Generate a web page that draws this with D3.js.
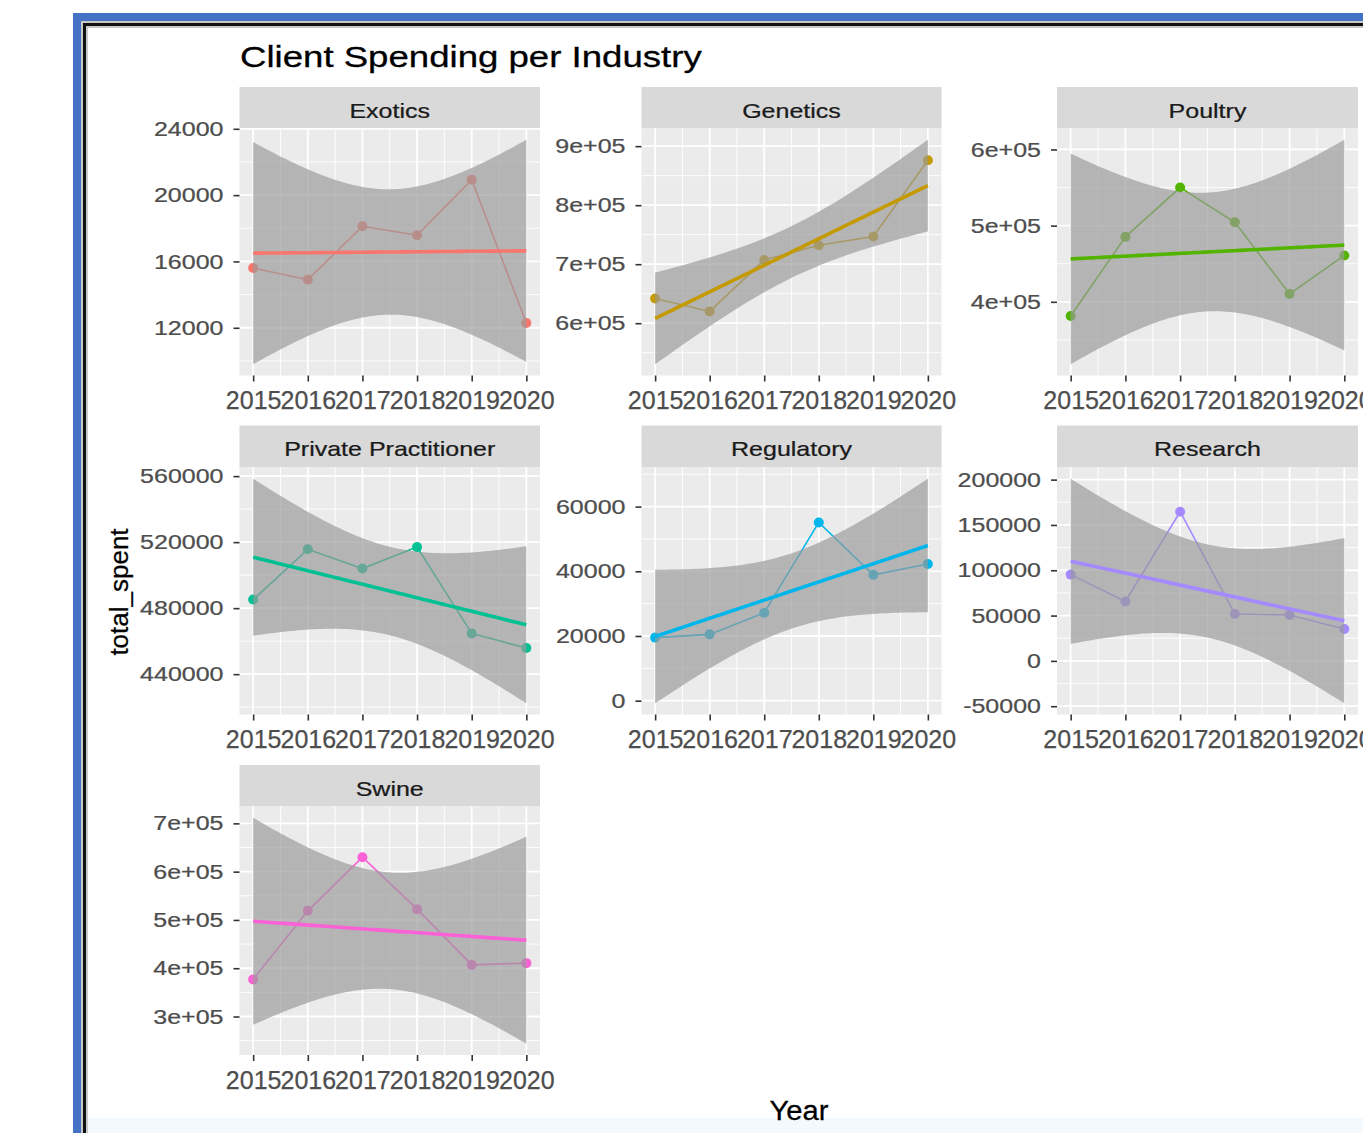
<!DOCTYPE html>
<html><head><meta charset="utf-8">
<script src="https://cdn.jsdelivr.net/npm/d3@7"></script>
<style>html,body{margin:0;padding:0;background:#fff;} svg{display:block;}</style>
</head><body>
<svg id="chart" width="1363" height="1133"></svg>
<script>
// ---------------- data ----------------
const years = [2015, 2016, 2017, 2018, 2019, 2020];
const xTickLabels = ["2015", "2016", "2017", "2018", "2019", "2020"];
const industries = ["Exotics", "Genetics", "Poultry", "Private Practitioner", "Regulatory", "Research", "Swine"];

const exotics             = [15600, 14900, 18120, 17580, 20930, 12290];
const genetics            = [642000, 620000, 707000, 732000, 747000, 876000];
const poultry             = [381400, 485300, 550000, 504400, 410400, 460900];
const privatePractitioner = [485200, 515650, 504000, 517000, 464700, 455800];
const regulatory          = [19500, 20500, 27200, 55100, 38900, 42250];
const research            = [95200, 65500, 164600, 51700, 50600, 35100];
const swine               = [376900, 518900, 630000, 522400, 407000, 410500];

const industryValues = [exotics, genetics, poultry, privatePractitioner, regulatory, research, swine];
const industryColors = ["#F8766D", "#C49A00", "#53B400", "#00C094", "#00B6EB", "#A58AFF", "#FB61D7"];

const yTickValues = [
  [12000, 16000, 20000, 24000],
  [600000, 700000, 800000, 900000],
  [400000, 500000, 600000],
  [440000, 480000, 520000, 560000],
  [0, 20000, 40000, 60000],
  [-50000, 0, 50000, 100000, 150000, 200000],
  [300000, 400000, 500000, 600000, 700000]
];
const yTickLabels = [
  ["12000", "16000", "20000", "24000"],
  ["6e+05", "7e+05", "8e+05", "9e+05"],
  ["4e+05", "5e+05", "6e+05"],
  ["440000", "480000", "520000", "560000"],
  ["0", "20000", "40000", "60000"],
  ["-50000", "0", "50000", "100000", "150000", "200000"],
  ["3e+05", "4e+05", "5e+05", "6e+05", "7e+05"]
];
const T_QUANTILE = 2.776445; // qt(0.975, df = 4) for the lm confidence band

// ---------------- layout ----------------
const FONT = "'Liberation Sans', Arial, Helvetica, sans-serif";
const cols = [{x0: 239.5, x1: 540}, {x0: 641.5, x1: 941.5}, {x0: 1057, x1: 1358}];
const rows = [{s0: 87, y0: 128.5, y1: 375.5}, {s0: 425.5, y0: 467.5, y1: 714.5}, {s0: 765, y0: 806.5, y1: 1055}];
const SX = 1.22; // horizontal stretch of the reference text

const svg = d3.select("#chart");

function stretch(sel, s) {
  sel.each(function () {
    const t = d3.select(this);
    const x = +t.attr("x") || 0;
    t.attr("transform", `translate(${x * (1 - s)},0) scale(${s},1)`);
  });
}
function heavy(sel, color, w) {
  sel.attr("stroke", color).attr("stroke-width", w).attr("paint-order", "stroke");
}

// frame
svg.append("rect").attr("x", 0).attr("y", 0).attr("width", 1363).attr("height", 1133).attr("fill", "#fff");
svg.append("rect").attr("x", 73).attr("y", 13).attr("width", 1290).attr("height", 8).attr("fill", "#4472C4");
svg.append("rect").attr("x", 73).attr("y", 13).attr("width", 8).attr("height", 1120).attr("fill", "#4472C4");
svg.append("rect").attr("x", 81).attr("y", 21).attr("width", 1282).attr("height", 7).attr("fill", "#C8C8C8");
svg.append("rect").attr("x", 81).attr("y", 21).attr("width", 7).attr("height", 1112).attr("fill", "#C8C8C8");
svg.append("rect").attr("x", 83).attr("y", 23).attr("width", 1280).attr("height", 3).attr("fill", "#111");
svg.append("rect").attr("x", 83).attr("y", 23).attr("width", 3).attr("height", 1110).attr("fill", "#111");
svg.append("rect").attr("x", 88).attr("y", 28).attr("width", 1275).attr("height", 1105).attr("fill", "#fff");
svg.append("rect").attr("x", 88).attr("y", 1118).attr("width", 1275).attr("height", 15).attr("fill", "#F3F9FD");

// title
svg.append("text").attr("x", 240).attr("y", 67).attr("font-family", FONT).attr("font-size", 30)
  .attr("fill", "#000").text("Client Spending per Industry").call(stretch, SX).call(heavy, "#000", 0.3);

// linear model with confidence band
function lm(xs, ys) {
  const n = xs.length, mx = d3.mean(xs), my = d3.mean(ys);
  let sxx = 0, sxy = 0;
  xs.forEach((x, i) => { sxx += (x - mx) ** 2; sxy += (x - mx) * (ys[i] - my); });
  const b = sxy / sxx, a = my - b * mx;
  let ss = 0;
  xs.forEach((x, i) => { ss += (ys[i] - (a + b * x)) ** 2; });
  const s = Math.sqrt(ss / (n - 2));
  return {n, mx, sxx, a, b, s};
}
function predict(m, x) {
  const fit = m.a + m.b * x;
  const se = m.s * Math.sqrt(1 / m.n + (x - m.mx) ** 2 / m.sxx);
  return {x, fit, lo: fit - T_QUANTILE * se, hi: fit + T_QUANTILE * se};
}

industries.forEach((name, i) => {
  const col = cols[i % 3], row = rows[Math.floor(i / 3)];
  const vals = industryValues[i], color = industryColors[i];
  const pts = years.map((y, j) => ({year: y, value: vals[j]}));
  const m = lm(years, vals);
  const xMin = d3.min(years), xMax = d3.max(years);
  const grid = d3.range(80).map(k => predict(m, xMin + k * (xMax - xMin) / 79));

  const x = d3.scaleLinear().domain([xMin - 0.05 * (xMax - xMin), xMax + 0.05 * (xMax - xMin)]).range([col.x0, col.x1]);
  let lo = Math.min(d3.min(vals), d3.min(grid, d => d.lo));
  let hi = Math.max(d3.max(vals), d3.max(grid, d => d.hi));
  const pad = (hi - lo) * 0.05;
  const y = d3.scaleLinear().domain([lo - pad, hi + pad]).range([row.y1, row.y0]);

  const g = svg.append("g");
  // strip
  g.append("rect").attr("x", col.x0).attr("y", row.s0).attr("width", col.x1 - col.x0).attr("height", row.y0 - row.s0).attr("fill", "#D9D9D9");
  g.append("text").attr("x", (col.x0 + col.x1) / 2).attr("y", row.s0 + 31).attr("text-anchor", "middle")
    .attr("font-family", FONT).attr("font-size", 20.5).attr("fill", "#1A1A1A").text(name)
    .call(stretch, SX).call(heavy, "#1A1A1A", 0.25);
  // panel
  g.append("rect").attr("x", col.x0).attr("y", row.y0).attr("width", col.x1 - col.x0).attr("height", row.y1 - row.y0).attr("fill", "#EBEBEB");

  // minor grid
  const yt = yTickValues[i];
  const step = yt[1] - yt[0];
  const [d0, d1] = y.domain();
  const yMinor = [];
  for (let v = yt[0] - step / 2; v <= d1; v += step) if (v >= d0) yMinor.push(v);
  const xMinor = years.slice(0, -1).map(v => v + 0.5);
  g.selectAll(null).data(yMinor).enter().append("line")
    .attr("x1", col.x0).attr("x2", col.x1).attr("y1", d => y(d)).attr("y2", d => y(d))
    .attr("stroke", "#fff").attr("stroke-width", 0.9);
  g.selectAll(null).data(xMinor).enter().append("line")
    .attr("y1", row.y0).attr("y2", row.y1).attr("x1", d => x(d)).attr("x2", d => x(d))
    .attr("stroke", "#fff").attr("stroke-width", 0.9);
  // major grid
  g.selectAll(null).data(yt).enter().append("line")
    .attr("x1", col.x0).attr("x2", col.x1).attr("y1", d => y(d)).attr("y2", d => y(d))
    .attr("stroke", "#fff").attr("stroke-width", 1.8);
  g.selectAll(null).data(years).enter().append("line")
    .attr("y1", row.y0).attr("y2", row.y1).attr("x1", d => x(d)).attr("x2", d => x(d))
    .attr("stroke", "#fff").attr("stroke-width", 1.8);

  // data line + points
  g.append("path").datum(pts).attr("fill", "none").attr("stroke", color).attr("stroke-width", 1.6)
    .attr("d", d3.line().x(d => x(d.year)).y(d => y(d.value)));
  g.selectAll(null).data(pts).enter().append("circle")
    .attr("cx", d => x(d.year)).attr("cy", d => y(d.value)).attr("r", 5).attr("fill", color);

  // smooth ribbon + fit line
  g.append("path").datum(grid).attr("fill", "#999999").attr("fill-opacity", 0.68)
    .attr("d", d3.area().x(d => x(d.x)).y0(d => y(d.lo)).y1(d => y(d.hi)));
  g.append("path").datum(grid).attr("fill", "none").attr("stroke", color).attr("stroke-width", 3.6)
    .attr("d", d3.line().x(d => x(d.x)).y(d => y(d.fit)));

  // axes
  const ya = g.append("g").attr("transform", `translate(${col.x0},0)`)
    .call(d3.axisLeft(y).tickValues(yt).tickFormat((d, k) => yTickLabels[i][k]).tickSize(6).tickPadding(10));
  ya.select(".domain").remove();
  ya.selectAll(".tick line").attr("stroke", "#333").attr("stroke-width", 1.6);
  ya.selectAll(".tick text").attr("font-family", FONT).attr("font-size", 20.5).attr("fill", "#4D4D4D")
    .call(stretch, SX).call(heavy, "#4D4D4D", 0.25);

  const xa = g.append("g").attr("transform", `translate(0,${row.y1})`)
    .call(d3.axisBottom(x).tickValues(years).tickFormat((d, k) => xTickLabels[k]).tickSize(6).tickPadding(10));
  xa.select(".domain").remove();
  xa.selectAll(".tick line").attr("stroke", "#333").attr("stroke-width", 1.6);
  xa.selectAll(".tick text").attr("font-family", FONT).attr("font-size", 25).attr("fill", "#4D4D4D")
    .call(heavy, "#4D4D4D", 0.25);
});

// axis titles
svg.append("text").attr("transform", "translate(128,592) rotate(-90)").attr("text-anchor", "middle")
  .attr("font-family", FONT).attr("font-size", 26).attr("fill", "#000").text("total_spent").call(heavy, "#000", 0.25);
svg.append("text").attr("x", 799).attr("y", 1120).attr("text-anchor", "middle")
  .attr("font-family", FONT).attr("font-size", 27).attr("fill", "#000").text("Year")
  .call(stretch, 1.08).call(heavy, "#000", 0.25);
</script>
</body></html>
